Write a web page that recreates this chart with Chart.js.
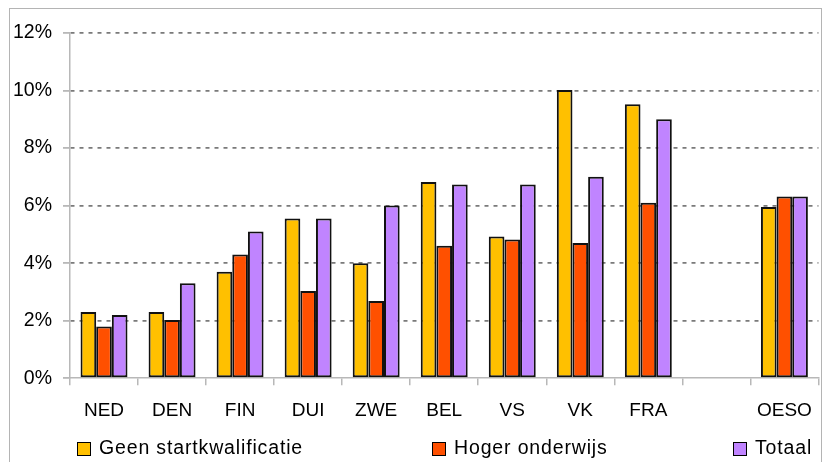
<!DOCTYPE html>
<html>
<head>
<meta charset="utf-8">
<script src="https://cdn.jsdelivr.net/npm/chart.js@4"></script>
<style>
  body { margin: 0; width: 826px; height: 462px; overflow: hidden; background: #fff; position: relative; font-family: "Liberation Sans", Arial, sans-serif; }
  #frame { position: absolute; left: 9px; top: 8px; width: 813px; height: 470px; border: 1px solid #b4b4b4; box-sizing: border-box; }
  #wrap { position: absolute; left: 0; top: 0; width: 826px; height: 462px; }
  .leg { position: absolute; top: 436px; font-size: 19.5px; letter-spacing: 0.85px; color: #000; white-space: nowrap; display: flex; align-items: center; }
  .leg i { display: inline-block; width: 12px; height: 12px; border: 1.5px solid #000; margin-right: 8px; margin-top: 3px; }
</style>
</head>
<body>
<div id="frame"></div>
<div id="wrap"><canvas id="chart" width="826" height="462"></canvas></div>
<div id="legend"></div>
<script>
const categories = ['NED', 'DEN', 'FIN', 'DUI', 'ZWE', 'BEL', 'VS', 'VK', 'FRA', '', 'OESO'];
const seriesNames = ['Geen startkwalificatie', 'Hoger onderwijs', 'Totaal'];
const geenStart = [2.3, 2.3, 3.7, 5.55, 4.0, 6.82, 4.93, 10.02, 9.52, null, 5.95];
const hogerOnderwijs = [1.8, 2.02, 4.3, 3.03, 2.68, 4.6, 4.82, 4.7, 6.1, null, 6.32];
const totaal = [2.2, 3.3, 5.1, 5.55, 6.0, 6.73, 6.73, 7.0, 9.0, null, 6.32];
const yTicks = [0, 2, 4, 6, 8, 10, 12];

const colors = ['#FFC000', '#FF5000', '#C084FF'];
const legendLeft = [77, 432, 733];

const datasets = [geenStart, hogerOnderwijs, totaal].map((vals, i) => ({
    label: seriesNames[i],
    data: vals,
    backgroundColor: colors[i],
    borderColor: '#111',
    borderWidth: 2,
    borderSkipped: false,
    barPercentage: 1.0,
    categoryPercentage: 0.69
}));

// legend built as html so the items can sit spread out like the original
const legendEl = document.getElementById('legend');
seriesNames.forEach((name, i) => {
    const item = document.createElement('div');
    item.className = 'leg';
    item.style.left = legendLeft[i] + 'px';
    item.innerHTML = '<i style="background:' + colors[i] + '"></i>' + name;
    legendEl.appendChild(item);
});

Chart.defaults.font.family = '"Liberation Sans", Arial, sans-serif';
Chart.defaults.color = '#000';

new Chart(document.getElementById('chart'), {
    type: 'bar',
    data: { labels: categories, datasets: datasets },
    options: {
        responsive: false,
        animation: false,
        layout: { padding: { left: 6, right: 3, top: 33, bottom: 26 } },
        plugins: { legend: { display: false }, tooltip: { enabled: false } },
        scales: {
            x: {
                grid: { offset: true, drawOnChartArea: false, tickLength: 7, color: '#b8b8b8', lineWidth: 1.5 },
                border: { color: '#b8b8b8', width: 1.5 },
                ticks: { font: { size: 19 }, padding: 14, maxRotation: 0, autoSkip: false }
            },
            y: {
                min: 0,
                max: 12,
                afterBuildTicks: axis => { axis.ticks = yTicks.map(v => ({ value: v })); },
                afterFit: axis => { axis.width = 64; },
                grid: {
                    color: ctx => ctx.tick && ctx.tick.value === 0 ? 'rgba(0,0,0,0)' : '#7a7a7a',
                    lineWidth: 1.8,
                    tickLength: 7,
                    tickColor: '#b8b8b8',
                    tickBorderDash: []
                },
                border: { color: '#b8b8b8', width: 1.5, dash: [4, 5] },
                ticks: { font: { size: 19.5 }, padding: 11, callback: v => v + '%' }
            }
        }
    }
});
</script>
</body>
</html>
